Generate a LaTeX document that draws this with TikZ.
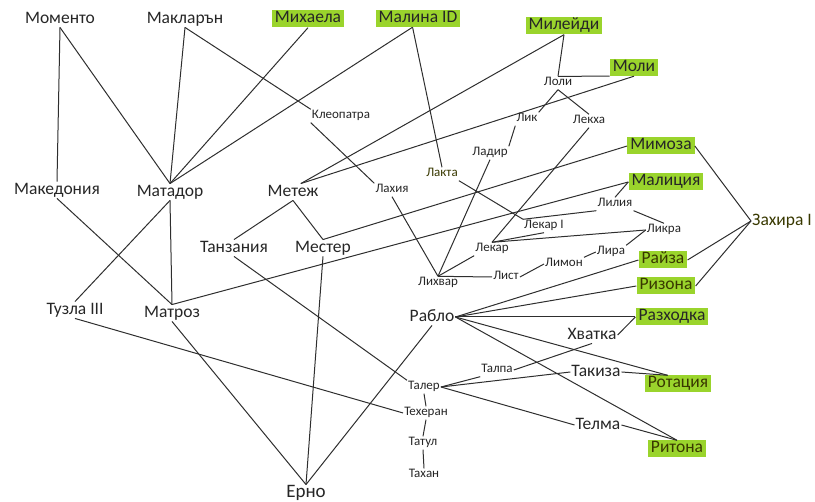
\documentclass[tikz,border=0pt]{standalone}
\usepackage{fontspec}
\setmainfont{Carlito}
\definecolor{ink}{HTML}{262626}
\definecolor{olive}{HTML}{383800}
\definecolor{hlgreen}{HTML}{9AD42C}
\definecolor{wire}{HTML}{2E2E2E}
\begin{document}
\begin{tikzpicture}[x=1pt,y=-1pt,
  big/.style={font=\fontsize{17.5}{20}\selectfont, text=ink, inner sep=1pt, text height=11.5pt, text depth=3pt},
  small/.style={font=\fontsize{13}{15}\selectfont, text=ink, inner sep=1pt, text height=8.5pt, text depth=2.5pt},
  hl/.style={fill=hlgreen, inner xsep=3pt, inner ysep=0pt, text height=12.5pt, text depth=4.5pt},
  wire/.style={draw=wire, line width=1pt}]
\useasboundingbox (0,0) rectangle (815,502);

% top row
\node[big] (momento) at (60,19) {Моменто};
\node[big] (maklaren) at (185,19) {Макларън};
\node[big,hl] (mihaela) at (308,19) {Михаела};
\node[big,hl] (malina) at (418,18.5) {Малина ID};
\node[big,hl] (mileydi) at (564,26) {Милейди};
\node[big,hl] (moli) at (634,67.5) {Моли};

% right column
\node[big,hl] (mimoza) at (661,146) {Мимоза};
\node[big,hl] (malitsia) at (666,182) {Малиция};
\node[big,text=olive] (zahira) at (782,221) {Захира I};
\node[big,hl,text=olive] (rayza) at (663,260) {Райза};
\node[big,hl,text=olive] (rizona) at (666,286) {Ризона};
\node[big,hl] (razhodka) at (672,317) {Разходка};
\node[big,hl,text=olive] (rotatsia) at (678,384) {Ротация};
\node[big,hl,text=olive] (ritona) at (677,449) {Ритона};
\node[big] (hvatka) at (592,335) {Хватка};
\node[big] (takiza) at (596,372) {Такиза};
\node[big] (telma) at (598,425) {Телма};

% middle and left
\node[big] (rablo) at (432,317) {Рабло};
\node[big,font=\fontsize{19}{22}\selectfont] (erno) at (306,493) {Ерно};
\node[big] (metezh) at (293,192) {Метеж};
\node[big] (mester) at (323,248) {Местер};
\node[big] (tanzania) at (234,248) {Танзания};
\node[big] (matador) at (170,192) {Матадор};
\node[big] (makedonia) at (57,190) {Македония};
\node[big] (tuzla) at (75,310) {Тузла III};
\node[big] (matroz) at (172,313) {Матроз};

% small labels
\node[small] (kleopatra) at (341,116) {Клеопатра};
\node[small] (lahia) at (392,190) {Лахия};
\node[small,text=olive] (lakta) at (442,174) {Лакта};
\node[small] (lik) at (527,119) {Лик};
\node[small] (loli) at (558,83) {Лоли};
\node[small] (lekha) at (589,121) {Лекха};
\node[small] (ladir) at (490,153) {Ладир};
\node[small] (lekarI) at (544,226) {Лекар I};
\node[small] (lilia) at (615,204) {Лилия};
\node[small] (likra) at (664,230) {Ликра};
\node[small] (lekar) at (492,249) {Лекар};
\node[small] (lira) at (611,252) {Лира};
\node[small] (limon) at (564,264) {Лимон};
\node[small] (list) at (506,277) {Лист};
\node[small] (lihvar) at (438,283) {Лихвар};
\node[small] (taler) at (424,387) {Талер};
\node[small] (teheran) at (426,413) {Техеран};
\node[small] (tatul) at (423,443) {Татул};
\node[small] (tahan) at (424,475) {Тахан};
\node[small] (talpa) at (497,370) {Талпа};

% connectors
\draw[wire] (momento.south) -- (makedonia.north);
\draw[wire] (momento.south) -- (matador.north);
\draw[wire] (maklaren.south) -- (matador.north);
\draw[wire] (maklaren.south) -- (kleopatra.north west);
\draw[wire] (mihaela.south) -- (matador.north);
\draw[wire] (malina.-122) -- (matador.north);
\draw[wire] (malina.-122) -- (lakta.north);
\draw[wire] (mileydi.south) -- (metezh.47);
\draw[wire] (moli.south) -- (metezh.47);
\draw[wire] (mileydi.south) -- (loli.north);
\draw[wire] (loli.north) -- (moli.south west);
\draw[wire] (loli.south) -- (lik.north east);
\draw[wire] (loli.south) -- (lekha.north);
\draw[wire] (lik.south west) -- (ladir.north east);
\draw[wire] (ladir.south) -- (lihvar.north);
\draw[wire] (lekha.south) -- (lekar.north);
\draw[wire] (kleopatra.south west) -- (lahia.north west);
\draw[wire] (lahia.south) -- (lihvar.north);
\draw[wire] (lihvar.north) -- (lekar.south west);
\draw[wire] (lihvar.north) -- (list.west);
\draw[wire] (list.east) -- (limon.west);
\draw[wire] (limon.north east) -- (lira.west);
\draw[wire] (lira.north east) -- (likra.west);
\draw[wire] (lekar.north) -- (likra.west);
\draw[wire] (lekar.north) -- (lekarI.south);
\draw[wire] (lakta.south east) -- (lekarI.north west);
\draw[wire] (lekarI.north west) -- (lilia.south west);
\draw[wire] (lilia.north) -- (malitsia.west);
\draw[wire] (lilia.south east) -- (likra.north);
\draw[wire] (matroz.north) -- (matador.south);
\draw[wire] (matador.south) -- (tuzla.north);
\draw[wire] (makedonia.south) -- (matroz.north);
\draw[wire] (matroz.north) -- (malitsia.west);
\draw[wire] (matroz.south) -- (erno.north);
\draw[wire] (mimoza.west) -- (mester.north);
\draw[wire] (metezh.south) -- (mester.north);
\draw[wire] (metezh.south) -- (tanzania.north);
\draw[wire] (mester.south) -- (erno.north);
\draw[wire] (tanzania.south) -- (taler.north west);
\draw[wire] (rablo.south) -- (erno.north);
\draw[wire] (rablo.east) -- (rayza.west);
\draw[wire] (rablo.east) -- (rizona.west);
\draw[wire] (rablo.east) -- (razhodka.west);
\draw[wire] (rablo.east) -- (rotatsia.140);
\draw[wire] (rablo.east) -- (ritona.north);
\draw[wire] (razhodka.west) -- (hvatka.east);
\draw[wire] (hvatka.south) -- (talpa.east);
\draw[wire] (talpa.south west) -- (taler.east);
\draw[wire] (taler.east) -- (takiza.west);
\draw[wire] (takiza.east) -- (rotatsia.140);
\draw[wire] (taler.east) -- (telma.west);
\draw[wire] (telma.east) -- (ritona.north);
\draw[wire] (taler.south) -- (teheran.north);
\draw[wire] (teheran.south) -- (tatul.north);
\draw[wire] (tatul.south) -- (tahan.north);
\draw[wire] (tuzla.south) -- (teheran.west);
\draw[wire] (mimoza.east) -- (zahira.west);
\draw[wire] (rayza.east) -- (zahira.west);
\draw[wire] (rizona.east) -- (zahira.west);
\end{tikzpicture}
\end{document}
